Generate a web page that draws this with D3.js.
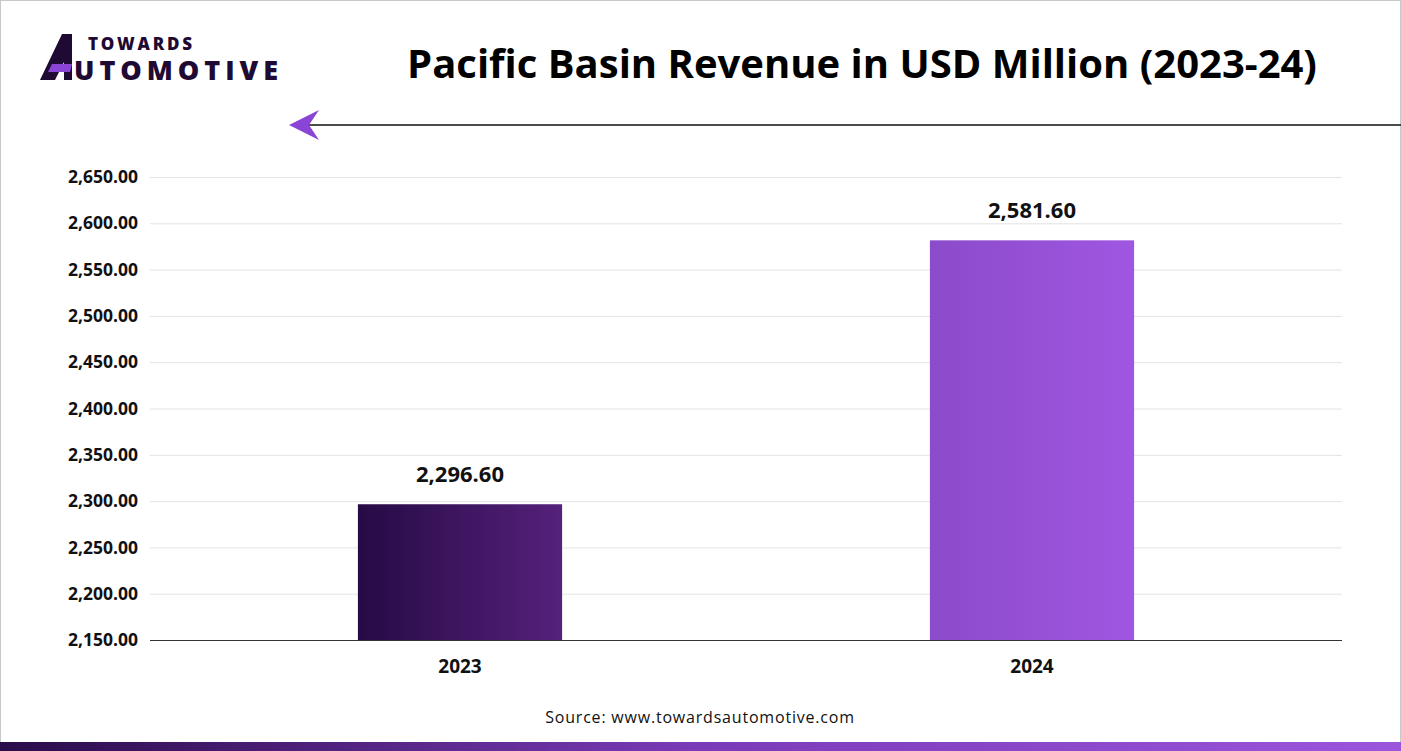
<!DOCTYPE html>
<html><head><meta charset="utf-8">
<script src="https://cdn.jsdelivr.net/npm/d3@7"></script>
<style>body{margin:0;background:#fff}svg{display:block}svg text{font-family:"Open Sans",sans-serif}</style>
</head><body><svg id="c" width="1401" height="751"></svg>
<script>
const categories=["2023","2024"];
const values=[2296.6,2581.6];
const yTicks=[2150,2200,2250,2300,2350,2400,2450,2500,2550,2600,2650];
const svg=d3.select("#c");
const defs=svg.append("defs");
function grad(id,stops){const g=defs.append("linearGradient").attr("id",id);stops.forEach((c,i)=>g.append("stop").attr("offset",i/(stops.length-1)).attr("stop-color",c));}
grad("g0",["#260a45","#55217b"]);
grad("g1",["#8b4bca","#a056e2"]);
grad("gb",["#2a0c4a","#7a3bb8","#9b55dd"]);
svg.append("rect").attr("x",0.5).attr("y",0.5).attr("width",1400).attr("height",750).attr("fill","none").attr("stroke","#c8c8c8");
const y=d3.scaleLinear().domain([2150,2650]).range([640,177]);
const x=d3.scaleBand().domain(categories).range([174,1318]).paddingInner(0.643).paddingOuter(0.3215);
const gy=svg.append("g").attr("transform","translate(150,0)")
 .call(d3.axisLeft(y).tickValues(yTicks).tickSize(-1192).tickFormat(d3.format(",.2f")));
gy.select(".domain").remove();
gy.selectAll(".tick line").attr("stroke","#e3e3e3");
gy.selectAll(".tick text").attr("x",-12).attr("font-size",17.5).attr("font-weight","bold").attr("fill","#111");
svg.append("line").attr("x1",150).attr("x2",1342).attr("y1",640.5).attr("y2",640.5).attr("stroke","#333");
svg.selectAll(".bar").data(values).join("rect").attr("x",(d,i)=>x(categories[i])).attr("width",x.bandwidth())
 .attr("y",d=>y(d)).attr("height",d=>640-y(d)).attr("fill",(d,i)=>`url(#g${i})`);
svg.selectAll(".lbl").data(values).join("text").attr("x",(d,i)=>x(categories[i])+x.bandwidth()/2).attr("y",d=>y(d)-22)
 .attr("text-anchor","middle").attr("font-size",22).attr("font-weight","bold").attr("fill","#111").text(d3.format(",.2f"));
const gx=svg.append("g").attr("transform","translate(0,640)").call(d3.axisBottom(x).tickSize(0));
gx.select(".domain").remove();
gx.selectAll("text").attr("dy",30).attr("font-size",19).attr("font-weight","bold").attr("fill","#111");
svg.append("text").attr("x",862).attr("y",78).attr("text-anchor","middle").attr("font-size",40).attr("font-weight","bold").attr("fill","#000").text("Pacific Basin Revenue in USD Million (2023-24)");
svg.append("line").attr("x1",305).attr("x2",1401).attr("y1",125).attr("y2",125).attr("stroke","#111").attr("stroke-width",1.5);
svg.append("path").attr("d","M289,125 L319,110 L309,125 L319,140 Z").attr("fill","#8a45d6");
svg.append("text").attr("x",700).attr("y",723).attr("text-anchor","middle").attr("font-size",16).attr("letter-spacing",0.8).attr("fill","#111").text("Source: www.towardsautomotive.com");
svg.append("rect").attr("x",0).attr("y",742).attr("width",1401).attr("height",9).attr("fill","url(#gb)");
// logo
svg.append("path").attr("d","M40,80 L62,34 L72,34 L72,80 L64,80 L64,62 L55,80 Z").attr("fill","#1e0a33");
svg.append("path").attr("d","M52,64 L72,64 L70,72 L48,72 Z").attr("fill","#8a45d6");
svg.append("text").attr("x",88).attr("y",50).attr("font-size",17).attr("font-weight","800").attr("textLength",104).attr("fill","#1e0a33").text("TOWARDS");
svg.append("text").attr("x",74).attr("y",80).attr("font-size",27).attr("font-weight","800").attr("textLength",204).attr("fill","#1e0a33").text("UTOMOTIVE");
</script></body></html>
